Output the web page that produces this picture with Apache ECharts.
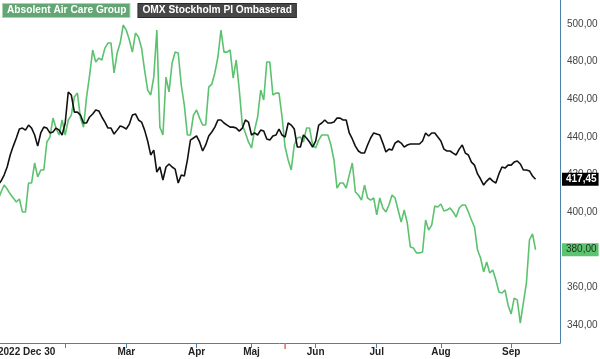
<!DOCTYPE html>
<html><head><meta charset="utf-8">
<script src="https://cdn.jsdelivr.net/npm/echarts@6/dist/echarts.min.js"></script>
<style>html,body{margin:0;padding:0;background:#fff}#c{width:600px;height:359px}</style>
</head><body><div id="c"></div>
<script>
const seriesNames = ['Absolent Air Care Group', 'OMX Stockholm PI Ombaserad'];
const startDate = '2022-12-30';
const holidays = ['2023-01-06','2023-04-07','2023-04-10','2023-05-01','2023-05-18','2023-06-06','2023-06-23'];
const categoryCount = 185;
const monthNames = ['Jan','Feb','Mar','Apr','Maj','Jun','Jul','Aug','Sep','Okt','Nov','Dec'];
const firstLabel = '2022 Dec 30';
const yTicks = [340, 360, 380, 400, 420, 440, 460, 480, 500];
const dividendDate = '2023-05-17';

const absolent = [406.4,410.7,414.4,412.3,409.6,407.5,405.4,407.0,400.1,400.1,
415.5,415.5,426.1,418.7,422.4,422.4,437.3,439.9,450.0,444.7,
441.0,449.0,441.0,449.0,451.6,461.2,463.3,450.0,445.2,461.2,
472.9,486.2,479.8,481.9,480.9,487.2,489.9,489.9,474.0,484.6,
489.9,499.5,496.8,491.5,485.1,495.2,493.1,487.2,475.5,464.9,
462.3,471.8,496.8,445.2,441.0,471.8,463.9,479.3,485.1,484.6,
467.6,456.9,441.0,441.0,451.6,454.3,450.0,446.3,446.3,466.5,
468.1,474.0,482.5,496.8,485.1,485.1,486.2,471.3,480.9,464.9,
446.3,442.1,437.3,434.1,443.6,450.6,464.9,459.6,479.8,479.8,
462.3,463.3,463.3,450.6,434.6,427.7,422.4,435.7,439.4,439.9,
437.3,444.7,444.7,435.7,434.1,438.3,441.0,441.0,441.0,435.7,
427.7,412.8,415.5,415.5,412.8,419.7,426.1,410.7,409.1,406.4,
414.4,407.5,406.4,407.5,398.5,407.5,402.2,400.1,403.8,409.1,
407.5,401.1,394.7,401.1,394.2,381.5,380.9,378.3,378.3,378.8,
395.8,390.5,393.1,403.2,402.7,404.3,400.6,401.1,402.2,400.1,
397.4,402.2,403.8,403.8,400.1,395.8,392.1,379.9,375.6,368.2,
373.5,367.6,369.2,363.9,357.5,357.0,358.6,350.6,345.8,354.3,
353.3,341.0,351.7,362.3,385.2,388.4,380.0];

const omx = [414.4,416.5,419.7,424.0,430.4,435.1,439.4,444.2,444.7,443.6,
446.3,444.7,441.0,435.1,442.1,445.2,444.7,442.1,442.6,444.7,
443.6,441.0,447.4,463.9,462.3,453.2,453.2,451.6,447.4,447.4,
450.6,452.2,454.3,453.8,450.6,447.9,444.7,444.7,441.5,443.6,
445.8,445.2,444.2,446.8,451.6,452.2,449.0,447.9,443.6,437.8,
430.4,433.0,421.3,424.0,417.1,424.0,425.6,424.0,422.9,415.5,
419.7,419.2,427.7,438.3,439.4,440.5,437.3,432.5,435.7,440.5,
442.6,445.2,449.0,449.0,447.4,446.3,445.2,445.2,444.7,443.1,
444.7,449.0,447.9,441.0,442.1,441.0,443.6,443.1,438.9,438.3,
440.5,441.0,444.2,441.0,439.9,447.4,446.3,444.2,434.6,434.6,
441.0,439.4,437.3,434.6,437.8,446.3,447.4,449.0,447.4,447.4,
447.9,450.0,450.0,449.0,449.0,442.1,438.9,435.1,432.5,431.4,
431.4,435.7,439.4,442.1,441.5,441.0,436.7,432.0,433.5,433.0,
436.7,437.8,436.7,434.6,435.7,436.2,436.2,436.2,436.2,437.8,
442.1,440.5,442.1,442.1,439.9,437.8,433.5,432.5,432.5,431.4,
430.4,433.5,435.7,431.4,430.4,426.6,425.0,420.3,417.6,414.4,
416.5,418.1,416.5,415.5,420.3,424.0,423.4,425.0,425.0,426.6,
427.2,425.6,422.4,422.4,421.9,419.2,417.45];

function tradingDays(start, n) {
  const out = [];
  const d = new Date(start + 'T00:00:00Z');
  while (out.length < n) {
    const dow = d.getUTCDay();
    const s = d.toISOString().slice(0, 10);
    if (dow !== 0 && dow !== 6 && holidays.indexOf(s) < 0) out.push(s);
    d.setUTCDate(d.getUTCDate() + 1);
  }
  return out;
}
const categories = tradingDays(startDate, categoryCount);
// month starts after the first (partial) January, which is covered by the start label
function isMonthStart(i) {
  return i > 1 && categories[i].slice(5, 7) !== categories[i - 1].slice(5, 7);
}
const fmt = v => Number(v).toFixed(2).replace('.', ',');
const FONT = 'Liberation Sans, Arial, sans-serif';
const AXIS = '#4a82ab';

const chart = echarts.init(document.getElementById('c'), null, {renderer: 'canvas'});
chart.setOption({
  animation: false,
  backgroundColor: '#fff',
  textStyle: {fontFamily: FONT},
  grid: {left: -2, right: 40, top: 0, bottom: 16, containLabel: false, outerBoundsMode: 'none'},
  legend: {
    left: -2, top: 3, padding: 0, icon: 'none', itemWidth: 0, itemHeight: 0, itemGap: 3,
    selectedMode: false,
    data: [
      {name: seriesNames[0], textStyle: {color: '#fff', fontWeight: 'bold', fontSize: 10.2, fontFamily: FONT,
        backgroundColor: '#63a673', borderColor: '#a8d4b0', borderWidth: 1, padding: [2, 3, 1, 4]}},
      {name: seriesNames[1], textStyle: {color: '#fff', fontWeight: 'bold', fontSize: 10.2, fontFamily: FONT,
        backgroundColor: '#474747', borderColor: '#2a2a2a', borderWidth: 1, padding: [2, 4, 1, 4]}}
    ]
  },
  xAxis: {
    type: 'category', data: categories, boundaryGap: false,
    axisLine: {show: true, lineStyle: {color: AXIS, width: 1}},
    axisTick: {show: true, length: 5, lineStyle: {color: AXIS}, interval: (i) => i === 0 || isMonthStart(i)},
    axisLabel: {
      show: true, margin: 4, color: '#222', fontWeight: 'bold', fontSize: 10, fontFamily: FONT,
      alignMinLabel: 'left', hideOverlap: false,
      interval: (i) => i === 0 || (isMonthStart(i) && categories[i].slice(5, 7) !== '02'),
      formatter: (v, i) => i === 0 ? firstLabel : monthNames[parseInt(v.slice(5, 7), 10) - 1]
    },
    splitLine: {show: false}
  },
  yAxis: {
    type: 'value', position: 'right', min: 330.4, max: 512.8,
    axisLine: {show: true, lineStyle: {color: AXIS, width: 1}},
    axisTick: {show: false},
    splitLine: {show: false},
    axisLabel: {show: true, customValues: yTicks, formatter: fmt, color: '#444', fontSize: 10, fontFamily: FONT, margin: 7}
  },
  series: [
    {
      name: seriesNames[0], type: 'line', data: absolent, showSymbol: false, symbol: 'none', smooth: false,
      lineStyle: {color: '#5cc26f', width: 1.6}, itemStyle: {color: '#5cc26f'},
      markLine: {
        silent: true, symbol: 'none', lineStyle: {color: 'rgba(0,0,0,0)', width: 0, opacity: 1},
        data: [{yAxis: absolent[absolent.length - 1]}],
        label: {show: true, position: 'end', distance: 2, formatter: p => fmt(p.value), backgroundColor: '#5cc46e',
          color: '#1e2e22', fontSize: 10, fontFamily: FONT, padding: [2, 2, 1, 4], opacity: 1}
      },
      markPoint: {
        silent: true, symbol: 'rect', symbolSize: [1.5, 6], symbolOffset: [0, 3],
        itemStyle: {color: '#e06a6a'}, label: {show: false},
        data: [{coord: [dividendDate, 330.4]}]
      }
    },
    {
      name: seriesNames[1], type: 'line', data: omx, showSymbol: false, symbol: 'none', smooth: false,
      lineStyle: {color: '#111', width: 1.6}, itemStyle: {color: '#111'},
      markLine: {
        silent: true, symbol: 'none', lineStyle: {color: 'rgba(0,0,0,0)', width: 0, opacity: 1},
        data: [{yAxis: omx[omx.length - 1]}],
        label: {show: true, position: 'end', distance: 2, formatter: p => fmt(p.value), backgroundColor: '#000',
          color: '#fff', fontWeight: 'bold', fontSize: 10, fontFamily: FONT, padding: [2, 2, 1, 4], opacity: 1}
      }
    }
  ]
});
</script></body></html>
